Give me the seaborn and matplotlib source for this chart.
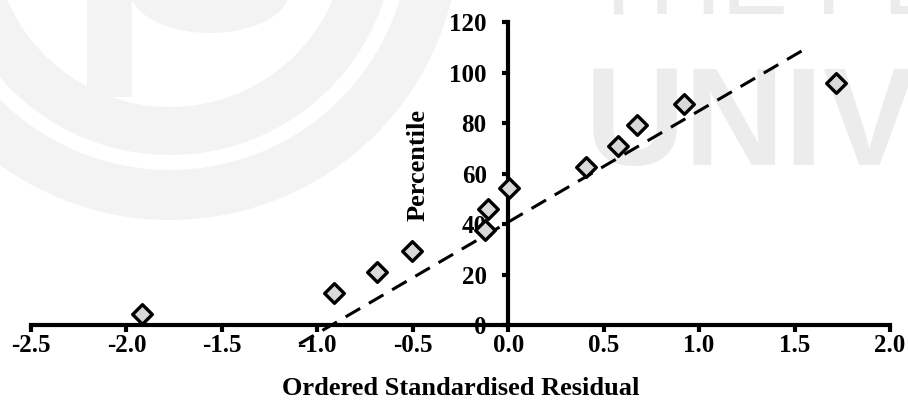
import numpy as np
import pandas as pd
import matplotlib
matplotlib.use("Agg")
import matplotlib.pyplot as plt
import seaborn as sns
from matplotlib import font_manager
from matplotlib.font_manager import FontProperties
from matplotlib.patches import Wedge, Rectangle, Ellipse

# ---- data ----
residuals = [-1.92, -0.915, -0.685, -0.505, -0.12, -0.105, 0.005, 0.405, 0.575, 0.675, 0.92, 1.715]
percentiles = [4.2, 12.5, 20.8, 29.2, 37.5, 45.8, 54.2, 62.5, 70.8, 79.2, 87.5, 95.8]
trend_x = [-1.095, 1.575]
trend_y = [-7.5, 110.2]
x_ticks = [-2.5, -2.0, -1.5, -1.0, -0.5, 0.0, 0.5, 1.0, 1.5, 2.0]
y_ticks = [0, 20, 40, 60, 80, 100, 120]
x_title = "Ordered Standardised Residual"
y_title = "Percentile"
watermark_top = "THE PE"
watermark_big = "UNIVE"

sns.set_theme(style="white")
plt.rcParams["font.family"] = ["Liberation Serif", "DejaVu Serif"]
plt.rcParams["font.weight"] = "bold"
plt.rcParams["axes.unicode_minus"] = False

W, H = 908, 401
fig = plt.figure(figsize=(W / 100, H / 100), dpi=100)
fig.patch.set_facecolor("white")

# ---- faint watermark in the background ----
bg = fig.add_axes([0, 0, 1, 1], zorder=0)
bg.set_xlim(0, W)
bg.set_ylim(H, 0)
bg.axis("off")
wm = "#f3f3f3"
cx, cy = 170, -70
bg.add_patch(Wedge((cx, cy), 290, 0, 360, width=50, color=wm, lw=0))
bg.add_patch(Wedge((cx, cy), 225, 0, 360, width=48, color=wm, lw=0))
bg.add_patch(Rectangle((87, 0), 45, 97, color=wm, lw=0))
bg.add_patch(Ellipse((210, -10), 160, 86, color=wm, lw=0))

try:
    font_manager.findfont(FontProperties(family="Liberation Sans Narrow", weight="bold"),
                          fallback_to_default=False)
    big_family, big_x, big_size = "Liberation Sans Narrow", 585, 100
except Exception:
    big_family, big_x, big_size = "Liberation Sans", 585, 100
bg.text(big_x, 165, watermark_big, ha="left", va="baseline", fontsize=big_size,
        family=big_family, weight="bold", color="#ececec")
bg.text(587.5, 14, watermark_top, ha="left", va="baseline", fontsize=72,
        family="Liberation Sans", weight="normal", color="#ececec")

# ---- main axes ----
left_px, right_px = 31, 890
top_px, bottom_px = 19.5, 350.25
ax = fig.add_axes([left_px / W, (H - bottom_px) / H,
                   (right_px - left_px) / W, (bottom_px - top_px) / H], zorder=1)
ax.patch.set_alpha(0)

sns.lineplot(x=trend_x, y=trend_y, ax=ax, color="black", linewidth=2.2,
             zorder=2, sort=False)
ax.lines[-1].set_dashes([5.5, 3.3])
ax.lines[-1].set_clip_on(False)

sns.scatterplot(x=residuals, y=percentiles, ax=ax, marker="D", s=100,
                color="#d9d9d9", edgecolor="black", linewidth=2.4, zorder=3,
                clip_on=False)

ax.set_xlim(-2.5, 2.0)
ax.set_ylim(-10, 121)
for side in ["top", "right"]:
    ax.spines[side].set_visible(False)
for side in ["left", "bottom"]:
    ax.spines[side].set_linewidth(3)
    ax.spines[side].set_color("black")
    ax.spines[side].set_position(("data", 0))
ax.spines["left"].set_bounds(0, 120)
ax.spines["bottom"].set_bounds(-2.5, 2.0)

ax.set_xticks(x_ticks)
ax.set_xticklabels([f"{v:.1f}" for v in x_ticks])
ax.set_yticks(y_ticks)
ax.set_yticklabels([str(v) for v in y_ticks])
ax.tick_params(axis="x", bottom=True, direction="out", length=5, width=3,
               pad=1.5, labelsize=18, color="black", labelcolor="black")
ax.tick_params(axis="y", left=True, direction="out", length=4, width=3,
               pad=11.5, labelsize=18, color="black", labelcolor="black")
for lab in ax.get_xticklabels() + ax.get_yticklabels():
    lab.set_fontweight("bold")
ax.grid(False)

ax.set_xlabel(x_title, fontsize=19, fontweight="bold", color="black")
ax.xaxis.set_label_coords(0.5, (bottom_px - 395) / (bottom_px - top_px))
ax.xaxis.label.set_verticalalignment("baseline")

ax.set_ylabel(y_title, fontsize=19, fontweight="bold", color="black")
ax.yaxis.set_label_coords((418 - left_px) / (right_px - left_px),
                          (bottom_px - 165) / (bottom_px - top_px))
ax.yaxis.label.set_verticalalignment("center")
ax.yaxis.label.set_horizontalalignment("center")

fig.savefig("out.png", dpi=100)
